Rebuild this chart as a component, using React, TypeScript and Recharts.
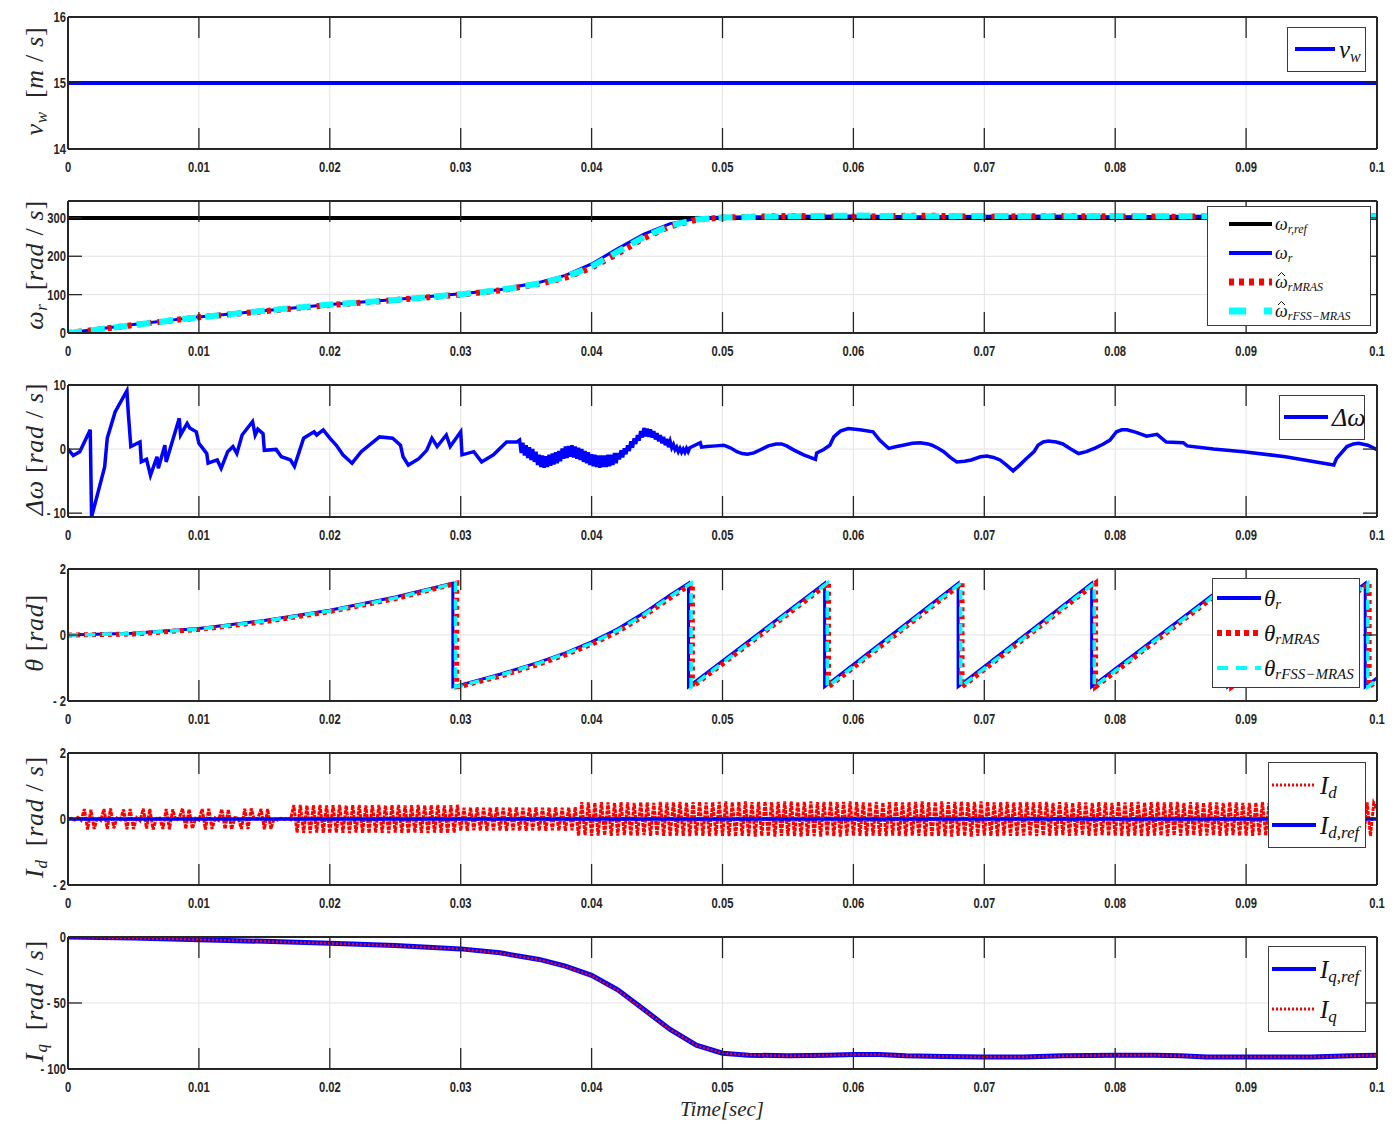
import React from "react";
import { LineChart, Line, XAxis, YAxis, CartesianGrid } from "recharts";

// ---- shared time axis ----
const X_TICKS = [0, 0.01, 0.02, 0.03, 0.04, 0.05, 0.06, 0.07, 0.08, 0.09, 0.1];

// ---- wind speed ----
const VW_T = [0, 0.1];
const VW_V = [15, 15];

// ---- rotor speed ----
const WREF_T = [0, 0.1];
const WREF_V = [300, 300];
const W_T = [0, 0.002, 0.005, 0.01, 0.015, 0.02, 0.025, 0.03, 0.033, 0.036, 0.038, 0.04, 0.042, 0.044, 0.046, 0.048, 0.05, 0.055, 0.06, 0.065, 0.07, 0.075, 0.08, 0.085, 0.09, 0.095, 0.1];
const W_R = [0, 9, 22, 42, 58, 74, 87, 102, 113, 132, 150, 180, 220, 258, 285, 298, 302, 304, 305, 303, 304, 305, 303, 304, 305, 304, 304];
const W_MRAS = [0, 8, 21, 41, 57, 73, 86, 100, 111, 128, 144, 170, 207, 247, 278, 295, 301, 305, 303, 306, 303, 305, 304, 303, 306, 304, 305];
const W_FSS = [0, 8, 21, 41, 58, 74, 86, 101, 112, 129, 146, 173, 212, 250, 280, 296, 301, 304, 306, 304, 305, 304, 305, 304, 304, 305, 304];

// ---- speed error: start-up transient ----
const DW_A_T = [
  0, 0.0004, 0.0009, 0.0017, 0.0018, 0.0028, 0.003, 0.0036, 0.0045, 0.0046, 0.0048, 0.0055, 0.0056, 0.006, 0.0063,
  0.0068, 0.0069, 0.0074, 0.0075, 0.0085, 0.0086, 0.0091, 0.0093, 0.0098, 0.01, 0.0106, 0.0107, 0.0114, 0.0117,
  0.0122, 0.0126, 0.0129, 0.0133, 0.0141, 0.0143, 0.0145, 0.0149, 0.015, 0.0159, 0.0163, 0.017, 0.0173, 0.018,
  0.0188, 0.019, 0.0195, 0.02, 0.0205, 0.021, 0.0217, 0.0224, 0.0233, 0.0238, 0.0248, 0.0254, 0.0256, 0.026,
  0.0268, 0.0274, 0.0278, 0.0282, 0.0289, 0.0292, 0.03, 0.0301, 0.031, 0.0316, 0.0325, 0.0335, 0.0343,
];
const DW_A_V = [
  0, -1, -0.4, 3, -10.6, -2.8, 1.7, 5.8, 9.1, 5.8, 0.4, 1.1, -2, -1.6, -4.1,
  -1.2, -3, 0.6, -2, 4.8, 2.2, 4, 3.3, 2.7, 0.9, -0.7, -2.2, -1.7, -3,
  -0.4, 0.4, -0.7, 2.2, 4.3, 2.2, 3.1, 2.4, -0.2, -0.05, -1.2, -1.7, -2.7, 1.7,
  2.7, 2.2, 3, 1.7, 0.6, -0.9, -2.2, -0.4, 1.1, 1.9, 1.7, 0.6, -1.2, -2.5,
  -1.5, -0.2, 1.7, 0.4, 2.2, 0.4, 2.7, -0.9, -0.4, -2, -0.9, 1.1, 1.1,
];
// ---- speed error: chattering while accelerating, one sample every 0.125 ms from 34.5 ms ----
const DW_B_START = 0.0345;
const DW_B_STEP = 0.000125;
const DW_B_V = [
  1.4, -0.6, 1.0, -1.0, 0.6, -1.4, 0.3, -1.7, 0.0, -2.0, -0.4, -2.5, -0.9, -2.8, -1.0, -2.9, -1.1, -2.8, -0.9, -2.6,
  -0.7, -2.4, -0.5, -2.2, -0.3, -1.9, 0.1, -1.5, 0.4, -1.4, 0.5, -1.2, 0.6, -1.3, 0.4, -1.5, 0.2, -1.7, 0.0, -2.0,
  -0.3, -2.2, -0.5, -2.5, -0.8, -2.7, -0.9, -2.8, -1.0, -2.9, -1.0, -2.8, -1.0, -2.8, -0.9, -2.7, -0.9, -2.5, -0.6, -2.2,
  -0.6, -1.6, -0.2, -1.3, 0.1, -0.8, 0.6, -0.3, 1.2, 0.2, 1.7, 0.8, 2.2, 1.3, 2.8, 1.8, 3.3, 2.0, 3.2, 1.9,
  3.1, 1.8, 2.8, 1.5, 2.5, 1.2, 2.2, 0.9, 1.9, 0.6, 1.6, 0.3, 1.2, 0.2, 0.7, -0.1, 0.3, -0.4, 0.1, -0.5,
  0.0, -0.5, 0.1, -0.4, 0.2,
];
// ---- speed error: steady running ----
const DW_C_T = [
  0.0483, 0.0484, 0.0488, 0.0495, 0.0501, 0.0506, 0.0511, 0.0515, 0.0519, 0.0524, 0.0529, 0.0535, 0.0541, 0.0545,
  0.0549, 0.0555, 0.0562, 0.0567, 0.0571, 0.0572, 0.0577, 0.0582, 0.0585, 0.059, 0.0596, 0.0605, 0.0615, 0.062,
  0.0627, 0.0633, 0.0638, 0.0645, 0.0651, 0.0657, 0.066, 0.0665, 0.0669, 0.0674, 0.0679, 0.0685, 0.069, 0.0697,
  0.0702, 0.0707, 0.0712, 0.0717, 0.0722, 0.0727, 0.0732, 0.0738, 0.0741, 0.0745, 0.0749, 0.0755, 0.076, 0.0766,
  0.0772, 0.0778, 0.0785, 0.0791, 0.0796, 0.0801, 0.0805, 0.0809, 0.0816, 0.0824, 0.0832, 0.0839, 0.0852, 0.0855,
  0.0875, 0.0898, 0.093, 0.0967, 0.0969, 0.0977, 0.0982, 0.0986, 0.0993, 0.1,
];
const DW_C_V = [
  1, 0.3, 0.4, 0.5, 0.6, 0.2, -0.4, -0.7, -0.8, -0.6, -0.1, 0.5, 0.8, 0.8,
  0.5, -0.2, -0.9, -1.3, -1.6, -0.6, -0.1, 0.6, 1.9, 2.8, 3.2, 3, 2.7, 1.4,
  0.1, 0.4, 0.6, 0.9, 1, 0.8, 0.6, 0.1, -0.4, -1.3, -2, -1.9, -1.7, -1.2,
  -1.1, -1.3, -1.7, -2.5, -3.4, -2.5, -1.5, -0.4, 0.6, 1.1, 1.25, 1.1, 0.8, 0,
  -0.7, -0.4, 0.2, 0.8, 1.4, 2.7, 3, 3, 2.6, 2, 2.3, 1.1, 1, 0.5,
  0, -0.4, -1.2, -2.5, -1.5, 0.4, 0.8, 0.9, 0.6, -0.1,
];

// ---- rotor position ----
const TH_R_T = [0, 0.005, 0.01, 0.015, 0.02, 0.025, 0.0294, 0.0294, 0.03, 0.033, 0.036, 0.038, 0.04, 0.042, 0.044, 0.046, 0.0474, 0.0474, 0.0578, 0.0578, 0.068, 0.068, 0.0782, 0.0782, 0.0886, 0.0886, 0.0991, 0.0991, 0.1];
const TH_R_V = [0, 0.05, 0.2, 0.44, 0.75, 1.15, 1.57, -1.57, -1.51, -1.19, -0.82, -0.54, -0.21, 0.19, 0.67, 1.21, 1.57, -1.57, 1.57, -1.57, 1.57, -1.57, 1.57, -1.57, 1.57, -1.57, 1.57, -1.57, -1.3];
const TH_M_T = [0, 0.005, 0.01, 0.015, 0.02, 0.025, 0.0297, 0.0297, 0.03, 0.033, 0.036, 0.038, 0.04, 0.042, 0.044, 0.046, 0.0477, 0.0477, 0.0581, 0.0581, 0.0683, 0.0683, 0.0785, 0.0785, 0.0889, 0.0889, 0.0994, 0.0994, 0.1];
const TH_M_V = [0, 0.03, 0.17, 0.4, 0.71, 1.1, 1.57, -1.57, -1.56, -1.25, -0.88, -0.6, -0.28, 0.1, 0.58, 1.12, 1.57, -1.57, 1.57, -1.57, 1.57, -1.57, 1.57, -1.57, 1.57, -1.57, 1.57, -1.57, -1.39];
const TH_F_T = [0, 0.005, 0.01, 0.015, 0.02, 0.025, 0.0296, 0.0296, 0.03, 0.033, 0.036, 0.038, 0.04, 0.042, 0.044, 0.046, 0.0476, 0.0476, 0.058, 0.058, 0.0682, 0.0682, 0.0784, 0.0784, 0.0888, 0.0888, 0.0993, 0.0993, 0.1];
const TH_F_V = [0, 0.04, 0.18, 0.42, 0.73, 1.12, 1.57, -1.57, -1.54, -1.22, -0.85, -0.57, -0.25, 0.14, 0.62, 1.16, 1.57, -1.57, 1.57, -1.57, 1.57, -1.57, 1.57, -1.57, 1.57, -1.57, 1.57, -1.57, -1.36];

// ---- d-axis current, one sample every 0.25 ms ----
const ID_STEP = 0.00025;
const ID_V = [
  0, 0.02, -0.03, 0.05, -0.04, 0.3, -0.32, 0.28, -0.3, 0.05, -0.04, 0.3, -0.3, 0.32, -0.28, 0.03, -0.02, 0.29, -0.31, 0.3,
  -0.3, 0.04, -0.05, 0.31, -0.29, 0.3, -0.32, 0.02, 0.03, -0.3, 0.3, -0.31, 0.29, -0.05, 0.04, 0.32, -0.3, 0.3, -0.29, 0.02,
  -0.03, 0.3, -0.32, 0.31, -0.3, 0.03, -0.04, 0.3, -0.3, 0.29, -0.31, 0.04, 0.03, -0.3, 0.31, -0.3, 0.32, -0.03, 0.02, 0.3,
  -0.31, 0.3, -0.3, 0.02, -0.03, 0.02, -0.01, 0.03, -0.02, 0.42, -0.41, 0.43, -0.42, 0.41, -0.43, 0.42, -0.41, 0.43, -0.42, 0.41,
  -0.43, 0.42, -0.41, 0.43, -0.42, 0.41, -0.43, 0.42, -0.41, 0.43, -0.42, 0.41, -0.43, 0.42, -0.41, 0.43, -0.42, 0.41, -0.43, 0.42,
  -0.41, 0.43, -0.42, 0.41, -0.43, 0.42, -0.41, 0.43, -0.42, 0.41, -0.43, 0.42, -0.41, 0.43, -0.42, 0.41, -0.43, 0.42, -0.41, 0.43,
  -0.35, 0.34, -0.36, 0.35, -0.34, 0.36, -0.35, 0.34, -0.36, 0.35, -0.34, 0.36, -0.35, 0.34, -0.36, 0.35, -0.34, 0.36, -0.35, 0.34,
  -0.36, 0.35, -0.34, 0.36, -0.35, 0.34, -0.36, 0.35, -0.34, 0.36, -0.35, 0.34, -0.36, 0.35, -0.34, 0.36, -0.5, 0.51, -0.49, 0.5,
  -0.51, 0.49, -0.5, 0.51, -0.49, 0.5, -0.51, 0.49, -0.5, 0.51, -0.49, 0.5, -0.51, 0.49, -0.5, 0.51, -0.49, 0.5, -0.51, 0.49,
  -0.5, 0.52, -0.51, 0.5, -0.52, 0.51, -0.5, 0.52, -0.51, 0.5, -0.52, 0.51, -0.5, 0.52, -0.51, 0.5, -0.52, 0.51, -0.5, 0.52,
  -0.51, 0.53, -0.52, 0.51, -0.53, 0.52, -0.51, 0.53, -0.52, 0.51, -0.53, 0.52, -0.51, 0.53, -0.52, 0.51, -0.53, 0.52, -0.51, 0.53,
  -0.51, 0.53, -0.52, 0.51, -0.53, 0.52, -0.51, 0.53, -0.52, 0.51, -0.53, 0.52, -0.51, 0.53, -0.52, 0.51, -0.53, 0.52, -0.51, 0.53,
  -0.5, 0.52, -0.51, 0.5, -0.52, 0.51, -0.5, 0.52, -0.51, 0.5, -0.52, 0.51, -0.5, 0.52, -0.51, 0.5, -0.52, 0.51, -0.5, 0.52,
  -0.51, 0.53, -0.52, 0.51, -0.53, 0.52, -0.51, 0.53, -0.52, 0.51, -0.53, 0.52, -0.51, 0.53, -0.52, 0.51, -0.53, 0.52, -0.51, 0.53,
  -0.5, 0.52, -0.51, 0.5, -0.52, 0.51, -0.5, 0.52, -0.51, 0.5, -0.52, 0.51, -0.5, 0.52, -0.51, 0.5, -0.52, 0.51, -0.5, 0.52,
  -0.51, 0.49, -0.5, 0.51, -0.49, 0.5, -0.51, 0.49, -0.5, 0.51, -0.49, 0.5, -0.51, 0.49, -0.5, 0.51, -0.49, 0.5, -0.51, 0.49,
  -0.5, 0.52, -0.51, 0.5, -0.52, 0.51, -0.5, 0.52, -0.51, 0.5, -0.52, 0.51, -0.5, 0.52, -0.51, 0.5, -0.52, 0.51, -0.5, 0.52,
  -0.51, 0.49, -0.5, 0.51, -0.49, 0.5, -0.51, 0.49, -0.5, 0.51, -0.49, 0.5, -0.51, 0.49, -0.5, 0.51, -0.49, 0.5, -0.51, 0.49,
  -0.5, 0.49, -0.51, 0.5, -0.49, 0.51, -0.5, 0.49, -0.51, 0.5, -0.49, 0.51, -0.5, 0.49, -0.51, 0.5, -0.49, 0.51, -0.5, 0.49,
  -0.51, 0.49, -0.5, 0.51, -0.49, 0.5, -0.51, 0.49, -0.5, 0.51, -0.49, 0.5, -0.51, 0.49, -0.5, 0.51, -0.49, 0.5, -0.51, 0.49,
  0.3,
];
const IDREF_T = [0, 0.1];
const IDREF_V = [0, 0];

// ---- q-axis current ----
const IQ_T = [0, 0.005, 0.01, 0.015, 0.02, 0.025, 0.03, 0.033, 0.036, 0.038, 0.04, 0.042, 0.044, 0.046, 0.048, 0.05, 0.052, 0.055, 0.058, 0.06, 0.062, 0.064, 0.067, 0.07, 0.073, 0.076, 0.08, 0.083, 0.085, 0.087, 0.09, 0.095, 0.098, 0.1];
const IQ_REF = [0, -0.8, -2, -3.3, -4.8, -6.5, -9, -12, -17, -22, -29, -40, -55, -70, -82, -88, -89.5, -90, -89.5, -89, -89, -90, -90.5, -91, -91, -90, -89.5, -89.5, -90, -91, -91, -91, -90, -89.5];
const IQ_V = [0, -0.8, -2, -3.3, -4.8, -6.6, -9.1, -12.2, -17.2, -22.3, -29.3, -40.4, -55.3, -70.2, -82.1, -88, -89.4, -90, -89.6, -89, -89.1, -90, -90.5, -91, -91, -90.1, -89.5, -89.5, -90, -91, -91, -91, -90, -89.6];

const rows = (t: number[], v: number[]) => t.map((x, i) => ({ t: x, v: v[i] }));
const ID_T = ID_V.map((_, i) => i * ID_STEP);
const DW_B_T = DW_B_V.map((_, i) => DW_B_START + i * DW_B_STEP);
const DW_ROWS = [...rows(DW_A_T, DW_A_V), ...rows(DW_B_T, DW_B_V), ...rows(DW_C_T, DW_C_V)];

const AX = "#262626";
const GRID = "#e3e3e3";
const MATH = '"Liberation Serif", "DejaVu Serif", serif';
const TICK_FONT = {
  fontFamily: '"Liberation Sans", Arial, sans-serif',
  fontWeight: 700,
  fontSize: 14,
  fill: AX,
};
const fmtY = (v: number) => (v < 0 ? `- ${-v}` : `${v}`);
const blank = () => "";

// narrow bold tick labels
function XTick(p: any) {
  return (
    <text transform={`translate(${p.x},${p.y}) scale(0.8,1)`} textAnchor="middle" dy="0.75em" {...TICK_FONT}>
      {String(p.payload.value)}
    </text>
  );
}
function YTick(p: any) {
  return (
    <text transform={`translate(${p.x},${p.y}) scale(0.8,1)`} textAnchor="end" dy="0.36em" {...TICK_FONT}>
      {fmtY(p.payload.value)}
    </text>
  );
}

function Panel({
  top,
  height = 184,
  domain,
  ticks,
  ylabel,
  xlabel,
  children,
}: {
  top: number;
  height?: number;
  domain: [number, number];
  ticks: number[];
  ylabel: React.ReactNode;
  xlabel?: React.ReactNode;
  children: React.ReactNode;
}) {
  return (
    <div style={{ position: "absolute", left: 0, top }}>
      <LineChart width={1397} height={height} margin={{ top: 16, right: 19, bottom: 0, left: 0 }}>
        <CartesianGrid xAxisId="b" yAxisId="l" stroke={GRID} strokeWidth={1} />
        <XAxis
          xAxisId="b"
          dataKey="t"
          type="number"
          domain={[0, 0.1]}
          ticks={X_TICKS}
          interval={0}
          allowDataOverflow
          height={height - 149}
          tickSize={-21}
          tickMargin={33}
          tick={<XTick />}
          tickLine={{ stroke: AX, strokeWidth: 1.3 }}
          axisLine={{ stroke: AX, strokeWidth: 2 }}
          label={xlabel ? () => xlabel : undefined}
        />
        <XAxis
          xAxisId="t"
          orientation="top"
          dataKey="t"
          type="number"
          domain={[0, 0.1]}
          ticks={X_TICKS}
          interval={0}
          allowDataOverflow
          height={1}
          tickSize={-21}
          tickLine={{ stroke: AX, strokeWidth: 1.3 }}
          axisLine={{ stroke: AX, strokeWidth: 2 }}
          tickFormatter={blank}
        />
        <YAxis
          yAxisId="l"
          type="number"
          domain={domain}
          ticks={ticks}
          interval={0}
          allowDataOverflow
          width={68}
          tickSize={-14}
          tickMargin={16}
          tick={<YTick />}
          tickLine={{ stroke: AX, strokeWidth: 1.3 }}
          axisLine={{ stroke: AX, strokeWidth: 2 }}
          label={() => ylabel}
        />
        <YAxis
          yAxisId="r"
          orientation="right"
          type="number"
          domain={domain}
          ticks={ticks}
          interval={0}
          allowDataOverflow
          width={1}
          tickSize={-14}
          tickLine={{ stroke: AX, strokeWidth: 1.3 }}
          axisLine={{ stroke: AX, strokeWidth: 2 }}
          tickFormatter={blank}
        />
        {children}
      </LineChart>
    </div>
  );
}

// rotated axis title made of math-style pieces
function YTitle({ parts }: { parts: React.ReactNode }) {
  return (
    <text
      x={34}
      y={81}
      transform="rotate(-90, 34, 81)"
      textAnchor="middle"
      dominantBaseline="central"
      fontFamily={MATH}
      fontSize={26}
      letterSpacing={0.7}
      fill={AX}
    >
      {parts}
    </text>
  );
}

const it = (s: string) => <tspan fontStyle="italic">{s}</tspan>;
const sub = (s: string) => (
  <>
    <tspan fontStyle="italic" fontSize={17} dy={7}>
      {s}
    </tspan>
    <tspan dy={-7}>{"\u2009"}</tspan>
  </>
);
const units = (u: string[]) => (
  <>
    <tspan> [</tspan>
    {u.map((p, i) => (
      <React.Fragment key={i}>
        {i > 0 && <tspan> / </tspan>}
        {it(p)}
      </React.Fragment>
    ))}
    <tspan>]</tspan>
  </>
);

type Row = { y: number; stroke: string; width: number; dash?: string; hat?: boolean; text: React.ReactNode };

function LegendBox({ x, y, w, h, lx0, lx1, tx, rows: items }: { x: number; y: number; w: number; h: number; lx0: number; lx1: number; tx: number; rows: Row[] }) {
  return (
    <svg style={{ position: "absolute", left: x, top: y }} width={w} height={h}>
      <rect x={0.5} y={0.5} width={w - 1} height={h - 1} fill="#fff" stroke="#3a3a3a" strokeWidth={1} />
      {items.map((r, i) => (
        <g key={i}>
          <line x1={lx0} x2={lx1} y1={r.y} y2={r.y} stroke={r.stroke} strokeWidth={r.width} strokeDasharray={r.dash} />
          <text x={tx} y={r.y} dominantBaseline="central" fontFamily={MATH} fill="#111">
            {r.text}
          </text>
          {r.hat && (
            <polyline
              points={`${tx + 3},${r.y - 6} ${tx + 6.5},${r.y - 9.5} ${tx + 10},${r.y - 6}`}
              fill="none"
              stroke="#111"
              strokeWidth={1}
            />
          )}
        </g>
      ))}
    </svg>
  );
}

// symbol with a subscript, for legend entries
const sym = (b: string, s: string, size: number, subSize: number) => (
  <>
    <tspan fontStyle="italic" fontSize={size}>{b}</tspan>
    {s && (
      <tspan fontStyle="italic" fontSize={subSize} dy={size * 0.28}>
        {s}
      </tspan>
    )}
  </>
);

const lineProps = { xAxisId: "b", yAxisId: "l", dataKey: "v", dot: false, isAnimationActive: false, type: "linear" as const };
// the first series of a panel sits on the mirrored axes so they get their ticks
const boxProps = { ...lineProps, xAxisId: "t", yAxisId: "r" };

export default function App() {
  return (
    <div style={{ position: "absolute", left: 0, top: 0, width: 1397, height: 1124, background: "#fff", overflow: "hidden" }}>
      <Panel top={0} domain={[14, 16]} ticks={[14, 15, 16]} ylabel={<YTitle parts={<>{it("v")}{sub("w")}{units(["m", "s"])}</>} />}>
        <Line {...boxProps} data={rows(VW_T, VW_V)} stroke="#0000ff" strokeWidth={4} />
      </Panel>

      <Panel top={184} domain={[0, 344]} ticks={[0, 100, 200, 300]} ylabel={<YTitle parts={<>{it("\u03c9")}{sub("r")}{units(["rad", "s"])}</>} />}>
        <Line {...boxProps} data={rows(WREF_T, WREF_V)} stroke="#000" strokeWidth={4} />
        <Line {...lineProps} data={rows(W_T, W_R)} stroke="#0000ff" strokeWidth={3} />
        <Line {...lineProps} data={rows(W_T, W_MRAS)} stroke="#ff0000" strokeWidth={6} strokeDasharray="4 6" />
        <Line {...lineProps} data={rows(W_T, W_FSS)} stroke="#00ffff" strokeWidth={6} strokeDasharray="14 9" />
      </Panel>

      <Panel top={368} domain={[-10.6, 10]} ticks={[-10, 0, 10]} ylabel={<YTitle parts={<>{it("\u0394\u03c9")}{units(["rad", "s"])}</>} />}>
        <Line {...boxProps} data={DW_ROWS} stroke="#0000ff" strokeWidth={3.5} />
      </Panel>

      <Panel top={552} domain={[-2, 2]} ticks={[-2, 0, 2]} ylabel={<YTitle parts={<>{it("\u03b8")}{units(["rad"])}</>} />}>
        <Line {...boxProps} data={rows(TH_R_T, TH_R_V)} stroke="#0000ff" strokeWidth={3} />
        <Line {...lineProps} data={rows(TH_M_T, TH_M_V)} stroke="#ff0000" strokeWidth={5} strokeDasharray="4 4" />
        <Line {...lineProps} data={rows(TH_F_T, TH_F_V)} stroke="#00ffff" strokeWidth={3.5} strokeDasharray="10 7" />
      </Panel>

      <Panel top={736} domain={[-2, 2]} ticks={[-2, 0, 2]} ylabel={<YTitle parts={<>{it("I")}{sub("d")}{units(["rad", "s"])}</>} />}>
        <Line {...boxProps} data={rows(ID_T, ID_V)} stroke="#ff0000" strokeWidth={3} strokeDasharray="4 1" />
        <Line {...lineProps} data={rows(IDREF_T, IDREF_V)} stroke="#0000ff" strokeWidth={3.5} />
      </Panel>

      <Panel
        top={920}
        height={204}
        domain={[-100, 0]}
        ticks={[-100, -50, 0]}
        ylabel={<YTitle parts={<>{it("I")}{sub("q")}{units(["rad", "s"])}</>} />}
        xlabel={
          <text x={722} y={189} textAnchor="middle" dominantBaseline="central" fontFamily={MATH} fontStyle="italic" fontSize={21} fill={AX}>
            Time[sec]
          </text>
        }
      >
        <Line {...boxProps} data={rows(IQ_T, IQ_REF)} stroke="#0000ff" strokeWidth={5} />
        <Line {...lineProps} data={rows(IQ_T, IQ_V)} stroke="#ff0000" strokeWidth={2.5} strokeDasharray="2 2" />
      </Panel>

      <LegendBox
        x={1287} y={27} w={79} h={45} lx0={8} lx1={48} tx={52}
        rows={[{ y: 22, stroke: "#0000ff", width: 4, text: sym("v", "w", 25, 16) }]}
      />
      <LegendBox
        x={1207} y={206} w={164} h={120} lx0={22} lx1={65} tx={68}
        rows={[
          { y: 18, stroke: "#000", width: 4, text: sym("\u03c9", "r,ref", 18, 12) },
          { y: 47, stroke: "#0000ff", width: 4, text: sym("\u03c9", "r", 18, 12) },
          { y: 76, stroke: "#ff0000", width: 7, dash: "5 5", hat: true, text: sym("\u03c9", "rMRAS", 18, 12) },
          { y: 105, stroke: "#00ffff", width: 7, dash: "17 18", hat: true, text: sym("\u03c9", "rFSS\u2212MRAS", 18, 12) },
        ]}
      />
      <LegendBox
        x={1279} y={395} w={86} h={45} lx0={5} lx1={49} tx={53}
        rows={[{ y: 22, stroke: "#0000ff", width: 4, text: <tspan fontStyle="italic" fontSize={26}>{"\u0394\u03c9"}</tspan> }]}
      />
      <LegendBox
        x={1212} y={578} w={148} h={110} lx0={5} lx1={49} tx={52}
        rows={[
          { y: 20, stroke: "#0000ff", width: 4, text: sym("\u03b8", "r", 23, 15) },
          { y: 55, stroke: "#ff0000", width: 6, dash: "5 4", text: sym("\u03b8", "rMRAS", 23, 15) },
          { y: 90, stroke: "#00ffff", width: 4, dash: "11 8", text: sym("\u03b8", "rFSS\u2212MRAS", 23, 15) },
        ]}
      />
      <LegendBox
        x={1268} y={762} w={98} h={86} lx0={4} lx1={48} tx={52}
        rows={[
          { y: 23, stroke: "#ff0000", width: 3, dash: "2 2", text: sym("I", "d", 25, 17) },
          { y: 63, stroke: "#0000ff", width: 4, text: sym("I", "d,ref", 25, 17) },
        ]}
      />
      <LegendBox
        x={1268} y={946} w={98} h={86} lx0={4} lx1={48} tx={52}
        rows={[
          { y: 23, stroke: "#0000ff", width: 4, text: sym("I", "q,ref", 25, 17) },
          { y: 63, stroke: "#ff0000", width: 3, dash: "2 2", text: sym("I", "q", 25, 17) },
        ]}
      />
    </div>
  );
}
